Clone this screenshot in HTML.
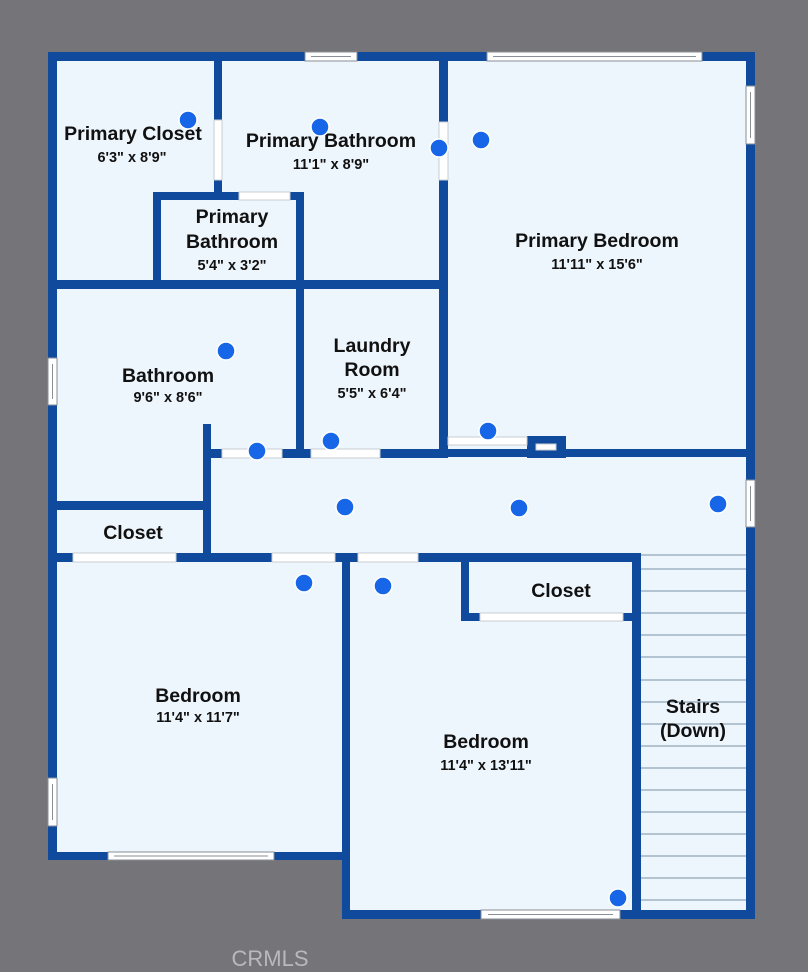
<!DOCTYPE html>
<html><head><meta charset="utf-8"><style>
html,body{margin:0;padding:0;background:#757579;}
svg{display:block}
text{font-family:"Liberation Sans",sans-serif;font-weight:bold;fill:#111;text-anchor:middle}
.t{font-size:19.5px}
.d{font-size:14.5px}
</style></head><body>
<svg width="808" height="972" viewBox="0 0 808 972">
<rect width="808" height="972" fill="#757579"/>
<path d="M48 52 H755 V919 H342 V860 H48 Z" fill="#eef6fd"/>
<g fill="#0f4a9c">
<rect x="48" y="52" width="707" height="9"/>
<rect x="48" y="52" width="9" height="808"/>
<rect x="746" y="52" width="9" height="867"/>
<rect x="48" y="852" width="302" height="8"/>
<rect x="342" y="553" width="8" height="366"/>
<rect x="342" y="910" width="413" height="9"/>
<rect x="214" y="52" width="8" height="148"/>
<rect x="153" y="192" width="151" height="8"/>
<rect x="153" y="192" width="8" height="96"/>
<rect x="296" y="192" width="8" height="266"/>
<rect x="48" y="280" width="400" height="9"/>
<rect x="439" y="52" width="9" height="406"/>
<rect x="203" y="449" width="245" height="9"/>
<rect x="439" y="449" width="316" height="8"/>
<rect x="527" y="436" width="39" height="22"/>
<rect x="203" y="424" width="8" height="132"/>
<rect x="48" y="501" width="163" height="9"/>
<rect x="48" y="553" width="593" height="9"/>
<rect x="461" y="553" width="8" height="68"/>
<rect x="461" y="613" width="179" height="8"/>
<rect x="632" y="553" width="9" height="366"/>
</g>
<g fill="#ffffff" stroke="#c8ccd2" stroke-width="1">
<rect x="214" y="120" width="8" height="60"/>
<rect x="239" y="192" width="51" height="8"/>
<rect x="439" y="122" width="9" height="58"/>
<rect x="222" y="449" width="60" height="9"/>
<rect x="311" y="449" width="69" height="9"/>
<rect x="448" y="437" width="79" height="8"/>
<rect x="73" y="553" width="103" height="9"/>
<rect x="272" y="553" width="63" height="9"/>
<rect x="358" y="553" width="60" height="9"/>
<rect x="480" y="613" width="143" height="8"/>
<rect x="536" y="444" width="20" height="6"/>
</g>
<g fill="#ffffff" stroke="#8a8f96" stroke-width="1">
<rect x="305" y="52" width="52" height="9"/>
<rect x="487" y="52" width="215" height="9"/>
<rect x="746" y="86" width="9" height="58"/>
<rect x="48" y="358" width="9" height="47"/>
<rect x="746" y="480" width="9" height="47"/>
<rect x="48" y="778" width="9" height="48"/>
<rect x="108" y="852" width="166" height="8"/>
<rect x="481" y="910" width="139" height="9"/>
</g>
<g stroke="#8a8f96" stroke-width="1">
<line x1="311" y1="56.5" x2="351" y2="56.5"/>
<line x1="493" y1="56.5" x2="696" y2="56.5"/>
<line x1="750.5" y1="92" x2="750.5" y2="138"/>
<line x1="52.5" y1="364" x2="52.5" y2="399"/>
<line x1="750.5" y1="486" x2="750.5" y2="521"/>
<line x1="52.5" y1="784" x2="52.5" y2="820"/>
<line x1="114" y1="856" x2="268" y2="856"/>
<line x1="488" y1="914.5" x2="613" y2="914.5"/>
</g>
<g stroke="#9fb3c2" stroke-width="1.5">
<line x1="641" y1="555" x2="746" y2="555"/>
<line x1="641" y1="569" x2="746" y2="569"/>
<line x1="641" y1="591" x2="746" y2="591"/>
<line x1="641" y1="613" x2="746" y2="613"/>
<line x1="641" y1="635" x2="746" y2="635"/>
<line x1="641" y1="657" x2="746" y2="657"/>
<line x1="641" y1="680" x2="746" y2="680"/>
<line x1="641" y1="702" x2="746" y2="702"/>
<line x1="641" y1="724" x2="746" y2="724"/>
<line x1="641" y1="746" x2="746" y2="746"/>
<line x1="641" y1="768" x2="746" y2="768"/>
<line x1="641" y1="790" x2="746" y2="790"/>
<line x1="641" y1="812" x2="746" y2="812"/>
<line x1="641" y1="834" x2="746" y2="834"/>
<line x1="641" y1="856" x2="746" y2="856"/>
<line x1="641" y1="878" x2="746" y2="878"/>
<line x1="641" y1="900" x2="746" y2="900"/>
</g>
<text class="t" x="133" y="140">Primary Closet</text>
<text class="d" x="132" y="162">6'3" x 8'9"</text>
<text class="t" x="331" y="147">Primary Bathroom</text>
<text class="d" x="331" y="169">11'1" x 8'9"</text>
<text class="t" x="232" y="223">Primary</text>
<text class="t" x="232" y="248">Bathroom</text>
<text class="d" x="232" y="270">5'4" x 3'2"</text>
<text class="t" x="597" y="247">Primary Bedroom</text>
<text class="d" x="597" y="269">11'11" x 15'6"</text>
<text class="t" x="168" y="382">Bathroom</text>
<text class="d" x="168" y="402">9'6" x 8'6"</text>
<text class="t" x="372" y="352">Laundry</text>
<text class="t" x="372" y="376">Room</text>
<text class="d" x="372" y="398">5'5" x 6'4"</text>
<text class="t" x="133" y="539">Closet</text>
<text class="t" x="561" y="597">Closet</text>
<text class="t" x="198" y="702">Bedroom</text>
<text class="d" x="198" y="722">11'4" x 11'7"</text>
<text class="t" x="486" y="748">Bedroom</text>
<text class="d" x="486" y="770">11'4" x 13'11"</text>
<text class="t" x="693" y="713">Stairs</text>
<text class="t" x="693" y="737">(Down)</text>
<text x="270" y="966" style="font-size:22px;font-weight:normal;fill:#b9b9bd">CRMLS</text>
<g fill="#1766e8" stroke="#ffffff" stroke-width="1.5">
<circle cx="188" cy="120" r="9"/>
<circle cx="320" cy="127" r="9"/>
<circle cx="439" cy="148" r="9"/>
<circle cx="481" cy="140" r="9"/>
<circle cx="226" cy="351" r="9"/>
<circle cx="257" cy="451" r="9"/>
<circle cx="331" cy="441" r="9"/>
<circle cx="488" cy="431" r="9"/>
<circle cx="345" cy="507" r="9"/>
<circle cx="519" cy="508" r="9"/>
<circle cx="718" cy="504" r="9"/>
<circle cx="304" cy="583" r="9"/>
<circle cx="383" cy="586" r="9"/>
<circle cx="618" cy="898" r="9"/>
</g>
</svg>
</body></html>
